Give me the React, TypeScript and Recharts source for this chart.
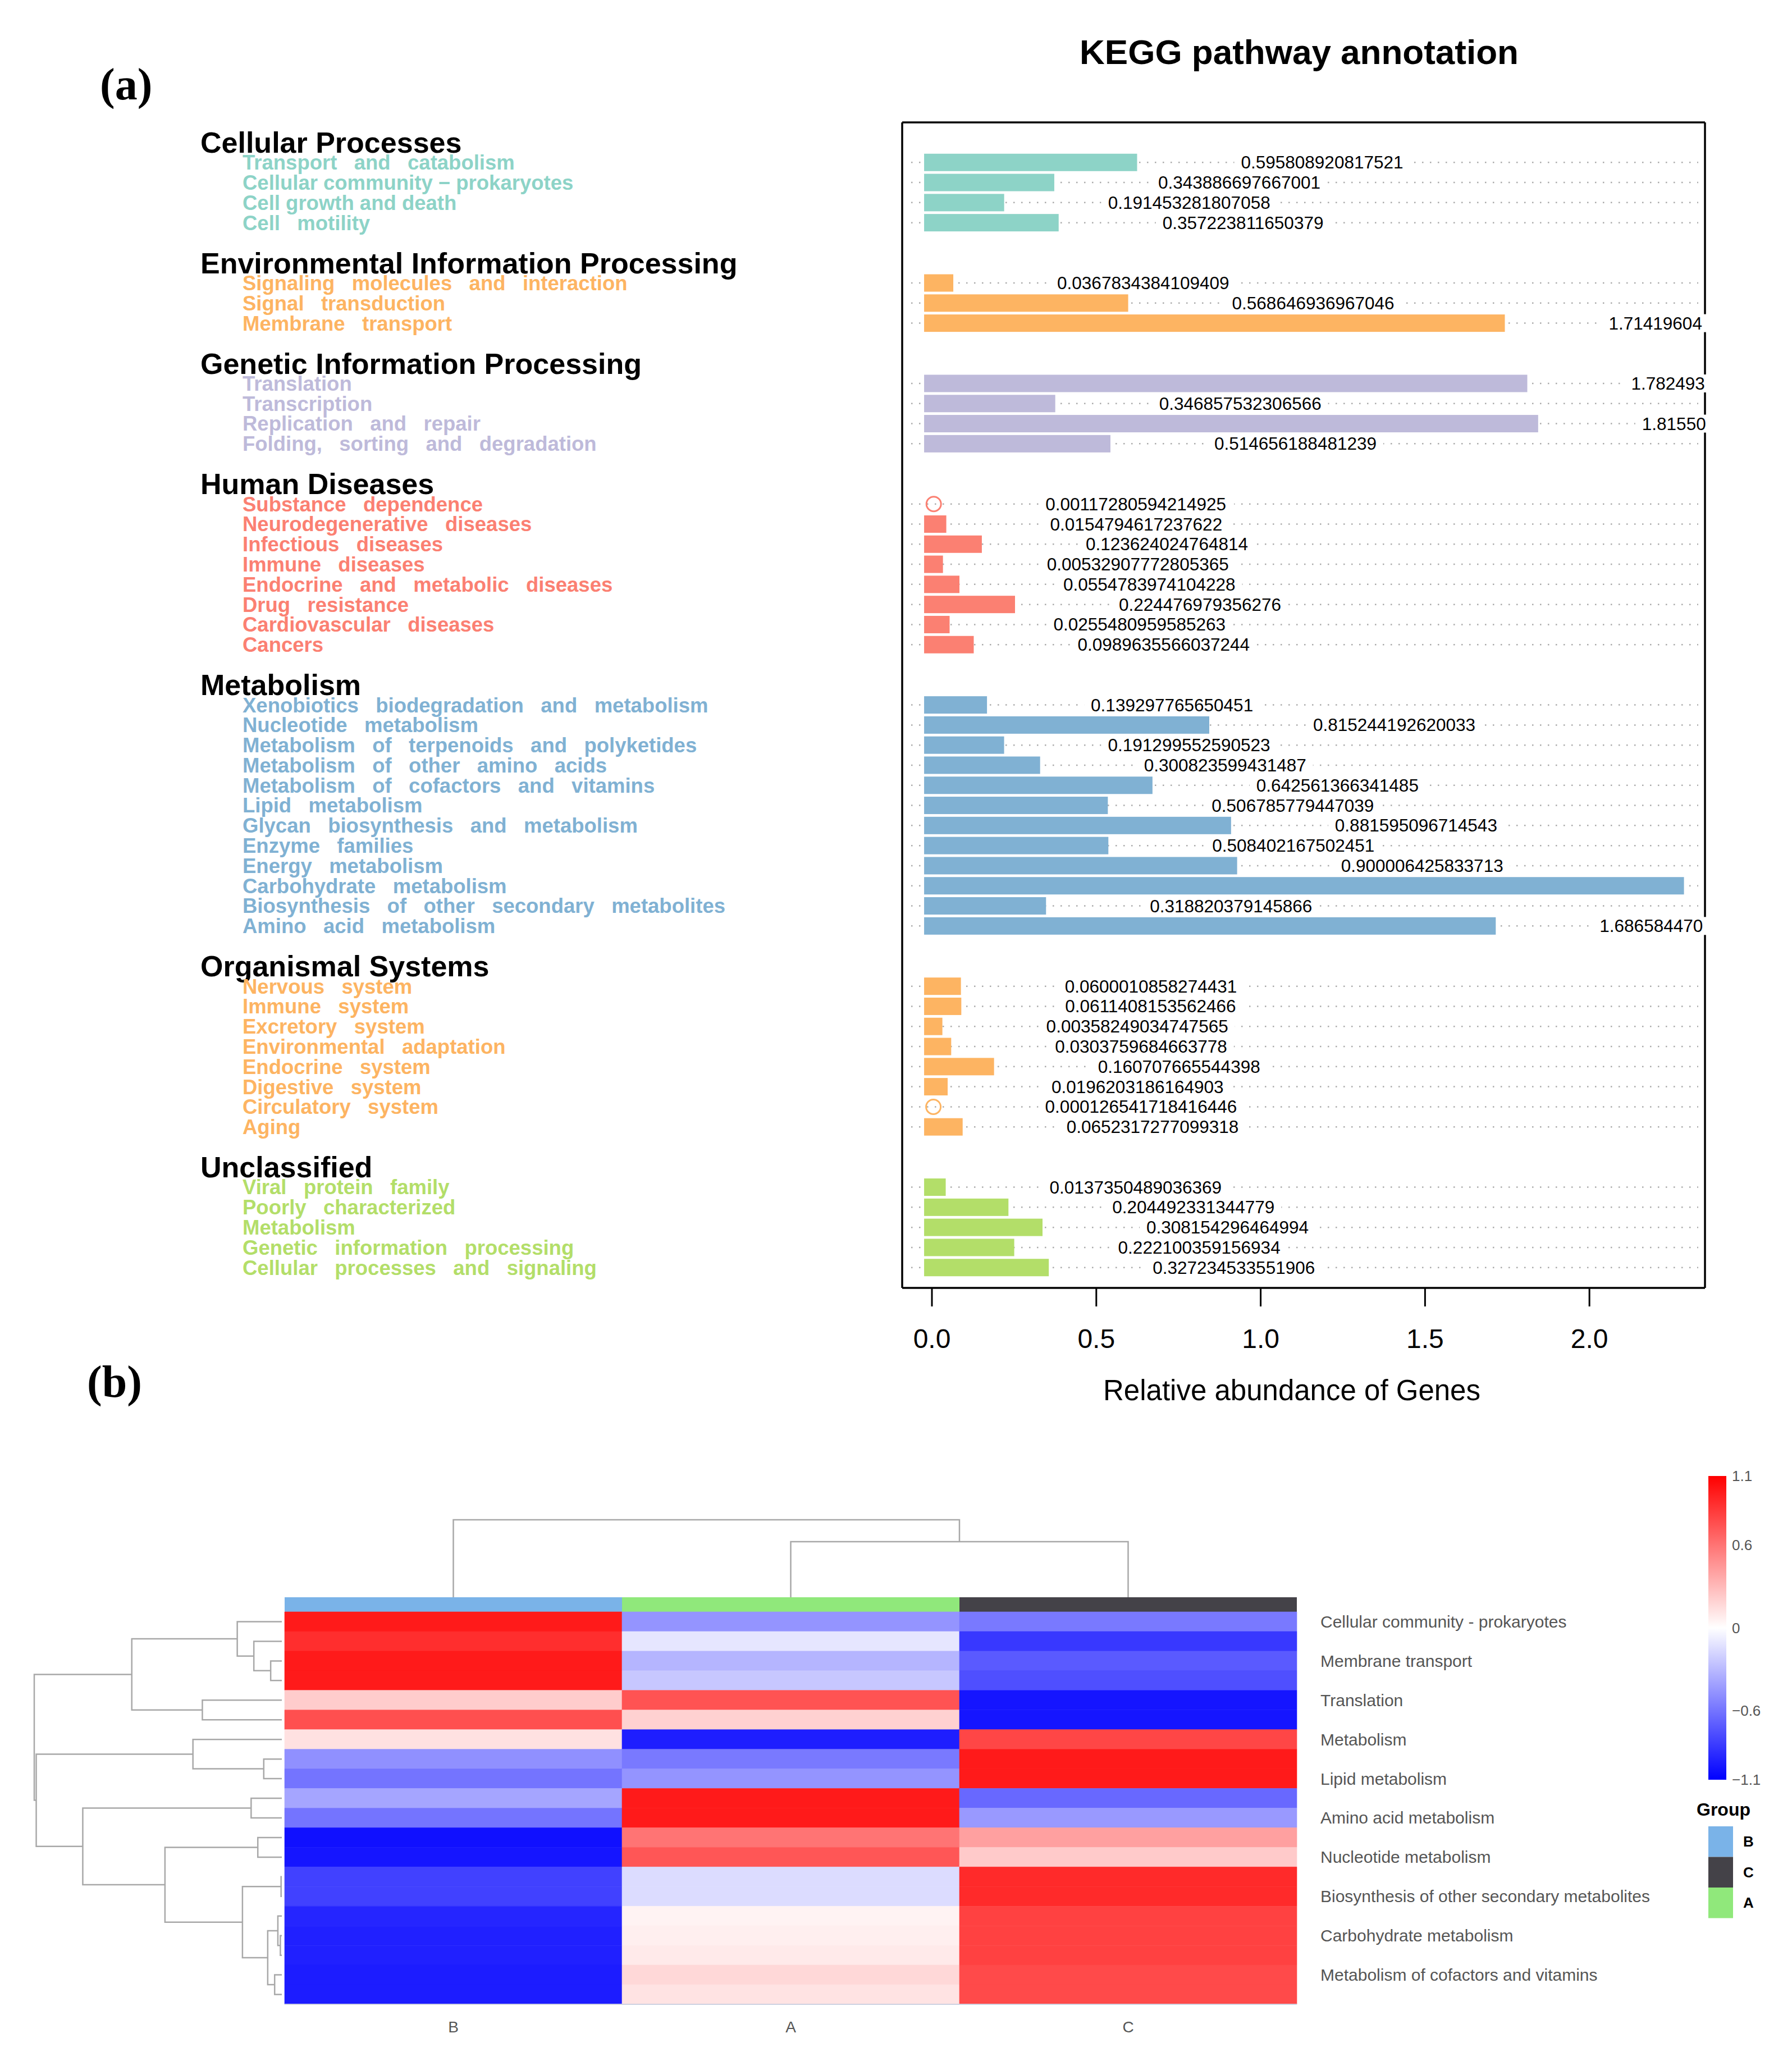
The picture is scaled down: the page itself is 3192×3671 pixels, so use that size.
import React from "react";
import { BarChart, Bar, XAxis, YAxis, LabelList, Cell, LineChart, Line } from "recharts";

const SANS = "'Liberation Sans', Arial, Helvetica, sans-serif";
const SERIF = "'Liberation Serif', 'Times New Roman', serif";

// ---------- panel (a): KEGG pathway annotation ----------
const categoryNames = [
  "Cellular Processes",
  "Environmental Information Processing",
  "Genetic Information Processing",
  "Human Diseases",
  "Metabolism",
  "Organismal Systems",
  "Unclassified",
];
const categoryColors = ["#8DD3C7", "#FDB462", "#BEBADA", "#FB8072", "#80B1D3", "#FDB462", "#B3DE69"];

const cellularPathways = ["Transport   and   catabolism", "Cellular community \u2212 prokaryotes", "Cell growth and death", "Cell   motility"];
const cellularValues = ["0.595808920817521", "0.343886697667001", "0.191453281807058", "0.357223811650379"];

const environmentalPathways = ["Signaling   molecules   and   interaction", "Signal   transduction", "Membrane   transport"];
const environmentalValues = ["0.0367834384109409", "0.568646936967046", "1.71419604"];

const geneticPathways = ["Translation", "Transcription", "Replication   and   repair", "Folding,   sorting   and   degradation"];
const geneticValues = ["1.782493", "0.346857532306566", "1.81550", "0.514656188481239"];

const diseasePathways = [
  "Substance   dependence", "Neurodegenerative   diseases", "Infectious   diseases", "Immune   diseases",
  "Endocrine   and   metabolic   diseases", "Drug   resistance", "Cardiovascular   diseases", "Cancers",
];
const diseaseValues = [
  "0.00117280594214925", "0.0154794617237622", "0.123624024764814", "0.00532907772805365",
  "0.0554783974104228", "0.224476979356276", "0.0255480959585263", "0.0989635566037244",
];

const metabolismPathways = [
  "Xenobiotics   biodegradation   and   metabolism", "Nucleotide   metabolism",
  "Metabolism   of   terpenoids   and   polyketides", "Metabolism   of   other   amino   acids",
  "Metabolism   of   cofactors   and   vitamins", "Lipid   metabolism",
  "Glycan   biosynthesis   and   metabolism", "Enzyme   families", "Energy   metabolism",
  "Carbohydrate   metabolism", "Biosynthesis   of   other   secondary   metabolites", "Amino   acid   metabolism",
];
const metabolismValues = [
  "0.139297765650451", "0.815244192620033", "0.191299552590523", "0.300823599431487",
  "0.642561366341485", "0.506785779447039", "0.881595096714543", "0.508402167502451",
  "0.900006425833713", "2.259", "0.318820379145866", "1.686584470",
];

const organismalPathways = [
  "Nervous   system", "Immune   system", "Excretory   system", "Environmental   adaptation",
  "Endocrine   system", "Digestive   system", "Circulatory   system", "Aging",
];
const organismalValues = [
  "0.0600010858274431", "0.0611408153562466", "0.00358249034747565", "0.0303759684663778",
  "0.160707665544398", "0.0196203186164903", "0.000126541718416446", "0.0652317277099318",
];

const unclassifiedPathways = [
  "Viral   protein   family", "Poorly   characterized", "Metabolism",
  "Genetic   information   processing", "Cellular   processes   and   signaling",
];
const unclassifiedValues = [
  "0.0137350489036369", "0.204492331344779", "0.308154296464994", "0.222100359156934", "0.327234533551906",
];

const pathwayLists = [cellularPathways, environmentalPathways, geneticPathways, diseasePathways, metabolismPathways, organismalPathways, unclassifiedPathways];
const valueLists = [cellularValues, environmentalValues, geneticValues, diseaseValues, metabolismValues, organismalValues, unclassifiedValues];

const TICKS = [0, 0.5, 1, 1.5, 2];
const TICK_DOMAIN: [number, number] = [-0.0905, 2.3515];
const BAR_DOMAIN: [number, number] = [-0.1187, 2.3229];
const BAR_BASE = -0.052;
const CIRCLE_BELOW = 0.002;
const FRAME_RIGHT = 3037;

type Slot = { key: string; kind: "blank" | "header" | "row"; text: string; color?: string; value?: number; valueText?: string };

const slots: Slot[] = [];
categoryNames.forEach((name, gi) => {
  if (gi > 0) slots.push({ key: `blank${gi}`, kind: "blank", text: "" });
  slots.push({ key: `head${gi}`, kind: "header", text: name });
  pathwayLists[gi].forEach((p, i) => {
    slots.push({ key: `row${gi}-${i}`, kind: "row", text: p, color: categoryColors[gi], value: Number(valueLists[gi][i]), valueText: valueLists[gi][i] });
  });
});
const slotByKey: Record<string, Slot> = {};
slots.forEach((s) => (slotByKey[s.key] = s));

const barRange = (d: Slot) => (d.kind === "row" ? [BAR_BASE, d.value] : null);

function PathwayTick(props: any) {
  const { y, payload } = props;
  const s = slotByKey[payload.value];
  if (!s || s.kind === "blank") return <g />;
  if (s.kind === "header") {
    return (
      <text x={357} y={y} dominantBaseline="central" fontFamily={SANS} fontWeight="bold" fontSize={52} fill="#000">
        {s.text}
      </text>
    );
  }
  return (
    <text x={432} y={y} dominantBaseline="central" fontFamily={SANS} fontWeight="bold" fontSize={36.5} fill={s.color} xmlSpace="preserve" style={{ whiteSpace: "pre" }}>
      {s.text}
    </text>
  );
}

function BarShape(props: any) {
  const { x, y, width, height, payload } = props;
  if (!payload || payload.kind !== "row") return <g />;
  if (payload.value < CIRCLE_BELOW) {
    return <circle cx={x + width - 14} cy={y + height / 2} r={13} fill="none" stroke={payload.color} strokeWidth={3} />;
  }
  return <rect x={x} y={y} width={width} height={height} fill={payload.color} />;
}

function DotRow(props: any) {
  const { x, y, width, height, index } = props;
  const s = props.payload ?? slots[index];
  if (!s || s.kind !== "row") return <g />;
  const cy = y + height / 2;
  return <line x1={x + 16} x2={x + width - 12} y1={cy} y2={cy} stroke="#ABABAB" strokeWidth={2.5} strokeDasharray="2.5 11.5" />;
}

function ValueLabel(props: any) {
  const { x, y, width, height, value } = props;
  if (typeof value !== "string") return <g />;
  const fs = 31.5;
  const tx = x + width + 185;
  const w = ((value.length - 1) * 0.556 + 0.278) * fs;
  if (tx + w > FRAME_RIGHT + 10) return <g />;
  const cy = y + height / 2;
  return (
    <g>
      <rect x={tx - 12} y={cy - 16} width={w + 24} height={32} fill="#fff" />
      <text x={tx} y={cy} dominantBaseline="central" fontFamily={SANS} fontSize={fs} fill="#000">
        {value}
      </text>
    </g>
  );
}

// ---------- panel (b): heatmap of z-scores ----------
const columnOrder = ["B", "A", "C"];
const groupColors: Record<string, string> = { B: "#7AB3E8", C: "#444248", A: "#90E87B" };
const legendOrder = ["B", "C", "A"];

const rowLabels = [
  "Cellular community - prokaryotes", "", "Membrane transport", "", "Translation", "",
  "Metabolism", "", "Lipid metabolism", "", "Amino acid metabolism", "", "Nucleotide metabolism", "",
  "Biosynthesis of other secondary metabolites", "", "Carbohydrate metabolism", "",
  "Metabolism of cofactors and vitamins", "",
];
const zB = [0.99, 0.9, 0.99, 0.99, 0.22, 0.76, 0.13, -0.48, -0.6, -0.39, -0.6, -1.03, -1.01, -0.82, -0.82, -0.94, -0.96, -0.96, -0.98, -0.98];
const zA = [-0.46, -0.11, -0.32, -0.24, 0.74, 0.2, -0.97, -0.58, -0.46, 0.99, 0.99, 0.6, 0.73, -0.15, -0.15, 0.05, 0.07, 0.09, 0.17, 0.12];
const zC = [-0.58, -0.86, -0.71, -0.76, -1.01, -1.01, 0.8, 0.99, 0.99, -0.65, -0.44, 0.41, 0.23, 0.92, 0.92, 0.82, 0.82, 0.82, 0.78, 0.78];
const columnZ = [zB, zA, zC];
const colorTicks = [1.1, 0.6, 0, -0.6, -1.1];
const Z_MAX = 1.1;

// merges: [nodeA, nodeB, height]; leaves are 0..n-1, merged nodes follow in order
const rowMerges: [number, number, number][] = [
  [13, 14, 0.003], [16, 17, 0.006], [15, 21, 0.016], [18, 19, 0.029], [2, 3, 0.045],
  [22, 23, 0.057], [7, 8, 0.073], [11, 12, 0.097], [1, 24, 0.113], [9, 10, 0.124],
  [20, 25, 0.159], [0, 28, 0.18], [4, 5, 0.321], [6, 26, 0.359], [27, 30, 0.472],
  [31, 32, 0.606], [29, 34, 0.804], [33, 36, 0.992], [35, 37, 1.0],
];
const colMerges: [number, number, number][] = [[1, 2, 0.717], [0, 3, 1.0]];

function heatColor(v: number) {
  const t = Math.min(1, Math.abs(v) / Z_MAX);
  const c = Math.round(255 * (1 - t));
  return v >= 0 ? `rgb(255,${c},${c})` : `rgb(${c},${c},255)`;
}

function dendroPoints(leafCount: number, merges: [number, number, number][]) {
  const pos = Array.from({ length: leafCount }, (_, i) => i + 0.5);
  const ht: number[] = Array(leafCount).fill(0);
  const pts: { pos: number; h: number; gap?: boolean }[] = [];
  merges.forEach(([a, b, h]) => {
    pts.push({ pos: pos[a], h: ht[a] }, { pos: pos[a], h }, { pos: pos[b], h }, { pos: pos[b], h: ht[b] }, { pos: pos[b], h: ht[b], gap: true });
    pos.push((pos[a] + pos[b]) / 2);
    ht.push(h);
  });
  return pts;
}

const heatRows = rowLabels.map((label, i) => ({ row: String(i), label, spanB: 1, spanA: 1, spanC: 1 }));
const stripRows = [{ row: "Group", spanB: 1, spanA: 1, spanC: 1 }];
const rowDendro = dendroPoints(rowLabels.length, rowMerges);
const colDendro = dendroPoints(columnOrder.length, colMerges);

function HeatLabelTick(props: any) {
  const { y, payload } = props;
  const label = rowLabels[Number(payload.value)];
  if (!label) return <g />;
  return (
    <text x={2352} y={y} dominantBaseline="central" fontFamily={SANS} fontSize={30} fill="#555">
      {label}
    </text>
  );
}

const abs = (left: number, top: number): React.CSSProperties => ({ position: "absolute", left, top });
const frameLine = { stroke: "#000", strokeWidth: 3.5 };

export default function App() {
  const cbTop = 2629;
  const cbHeight = 541;
  const cbY = (v: number) => cbTop + ((Z_MAX - v) / (2 * Z_MAX)) * cbHeight;
  return (
    <div style={{ position: "absolute", left: 0, top: 0, width: 3192, height: 3671, background: "#fff", overflow: "hidden" }}>
      <div style={abs(0, 0)}>
        <BarChart layout="vertical" width={3192} height={2560} data={slots} margin={{ top: 217, right: 154, bottom: 66, left: 1606 }}>
          <XAxis
            xAxisId="tick"
            type="number"
            domain={TICK_DOMAIN}
            ticks={TICKS}
            allowDataOverflow
            tickFormatter={(v: number) => v.toFixed(1)}
            height={200}
            tickSize={33}
            tickMargin={40}
            tick={{ fontSize: 48, fill: "#000", fontFamily: SANS }}
            tickLine={{ stroke: "#000", strokeWidth: 3 }}
            axisLine={frameLine}
            label={{ value: "Relative abundance of Genes", position: "insideBottom", offset: 0, dx: -21, fontSize: 51, fill: "#000", fontFamily: SANS }}
          />
          <XAxis xAxisId="top" orientation="top" type="number" domain={TICK_DOMAIN} height={1} tick={false} tickLine={false} axisLine={frameLine} allowDataOverflow />
          <XAxis xAxisId="bar" orientation="top" type="number" domain={BAR_DOMAIN} height={0} hide allowDataOverflow />
          <YAxis
            type="category"
            dataKey="key"
            width={1}
            interval={0}
            padding={{ top: 18, bottom: 18 }}
            tickLine={false}
            axisLine={frameLine}
            tick={PathwayTick}
          />
          <YAxis yAxisId="right" orientation="right" type="category" dataKey="key" width={1} tick={false} tickLine={false} axisLine={frameLine} />
          <Bar xAxisId="bar" dataKey={barRange} barSize={31} shape={BarShape} background={DotRow} isAnimationActive={false}>
            <LabelList dataKey="valueText" content={ValueLabel} />
          </Bar>
        </BarChart>
      </div>

      <div style={abs(0, 2700)}>
        <LineChart width={3192} height={146} data={colDendro} margin={{ top: 7, right: 882, bottom: 1, left: 507 }}>
          <XAxis dataKey="pos" type="number" domain={[0, 3]} hide />
          <YAxis type="number" domain={[0, 1]} hide />
          <Line dataKey={(d: any) => (d.gap ? null : d.h)} stroke="#A8A8A8" strokeWidth={2.5} dot={false} isAnimationActive={false} />
        </LineChart>
      </div>

      <div style={abs(0, 2845)}>
        <BarChart layout="vertical" width={3192} height={26} data={stripRows} margin={{ top: 0, right: 882, bottom: 0, left: 507 }} barCategoryGap={0}>
          <XAxis type="number" domain={[0, 3]} hide />
          <YAxis type="category" dataKey="row" hide />
          {columnOrder.map((col) => (
            <Bar key={col} dataKey={`span${col}`} stackId="g" fill={groupColors[col]} isAnimationActive={false} />
          ))}
        </BarChart>
      </div>

      <div style={abs(0, 2600)}>
        <BarChart layout="vertical" width={3192} height={1071} data={heatRows} margin={{ top: 271, right: 881, bottom: 31, left: 507 }} barCategoryGap={0}>
          <XAxis
            type="number"
            domain={[0, 3]}
            ticks={[0.5, 1.5, 2.5]}
            tickFormatter={(v: number) => columnOrder[Math.floor(v)]}
            height={70}
            tickSize={0}
            tickMargin={30}
            tickLine={false}
            axisLine={{ stroke: "#CDD0E0", strokeWidth: 2 }}
            tick={{ fontSize: 28, fill: "#555", fontFamily: SANS }}
          />
          <YAxis type="category" dataKey="row" orientation="right" width={1} interval={0} tickLine={false} axisLine={false} tick={HeatLabelTick} />
          {columnOrder.map((col, j) => (
            <Bar key={col} dataKey={`span${col}`} stackId="h" isAnimationActive={false}>
              {heatRows.map((_, i) => (
                <Cell key={i} fill={heatColor(columnZ[j][i])} stroke={heatColor(columnZ[j][i])} strokeWidth={0.6} />
              ))}
            </Bar>
          ))}
        </BarChart>
      </div>

      <div style={abs(0, 2871)}>
        <LineChart width={520} height={699} data={rowDendro} margin={{ top: 0, right: 18, bottom: 0, left: 61 }}>
          <XAxis dataKey="h" type="number" domain={[0, 1]} reversed hide />
          <YAxis type="number" domain={[0, rowLabels.length]} reversed hide />
          <Line dataKey={(d: any) => (d.gap ? null : d.pos)} stroke="#A8A8A8" strokeWidth={2.5} dot={false} isAnimationActive={false} />
        </LineChart>
      </div>

      <svg width={3192} height={3671} style={{ position: "absolute", left: 0, top: 0, pointerEvents: "none" }}>
        <text x={178} y={177} fontFamily={SERIF} fontWeight="bold" fontSize={80} fill="#000">(a)</text>
        <text x={155} y={2488} fontFamily={SERIF} fontWeight="bold" fontSize={80} fill="#000">(b)</text>
        <text x={2314} y={114} textAnchor="middle" fontFamily={SANS} fontWeight="bold" fontSize={62} fill="#000">KEGG pathway annotation</text>

        <defs>
          <linearGradient id="zgrad" x1="0" y1="0" x2="0" y2="1">
            <stop offset="0%" stopColor={heatColor(Z_MAX)} />
            <stop offset="50%" stopColor="#ffffff" />
            <stop offset="100%" stopColor={heatColor(-Z_MAX)} />
          </linearGradient>
        </defs>
        <rect x={3043} y={cbTop} width={32} height={cbHeight} fill="url(#zgrad)" />
        {colorTicks.map((v) => (
          <text key={v} x={3085} y={cbY(v)} dominantBaseline="central" fontFamily={SANS} fontSize={26} fill="#555">
            {v < 0 ? `\u2212${Math.abs(v)}` : String(v)}
          </text>
        ))}
        <text x={3022} y={3234} fontFamily={SANS} fontWeight="bold" fontSize={32} fill="#000">Group</text>
        {legendOrder.map((g, i) => (
          <g key={g}>
            <rect x={3043} y={3253 + i * 54.5} width={44} height={54.5} fill={groupColors[g]} />
            <text x={3105} y={3253 + i * 54.5 + 27} dominantBaseline="central" fontFamily={SANS} fontWeight="bold" fontSize={26} fill="#000">{g}</text>
          </g>
        ))}
      </svg>
    </div>
  );
}
